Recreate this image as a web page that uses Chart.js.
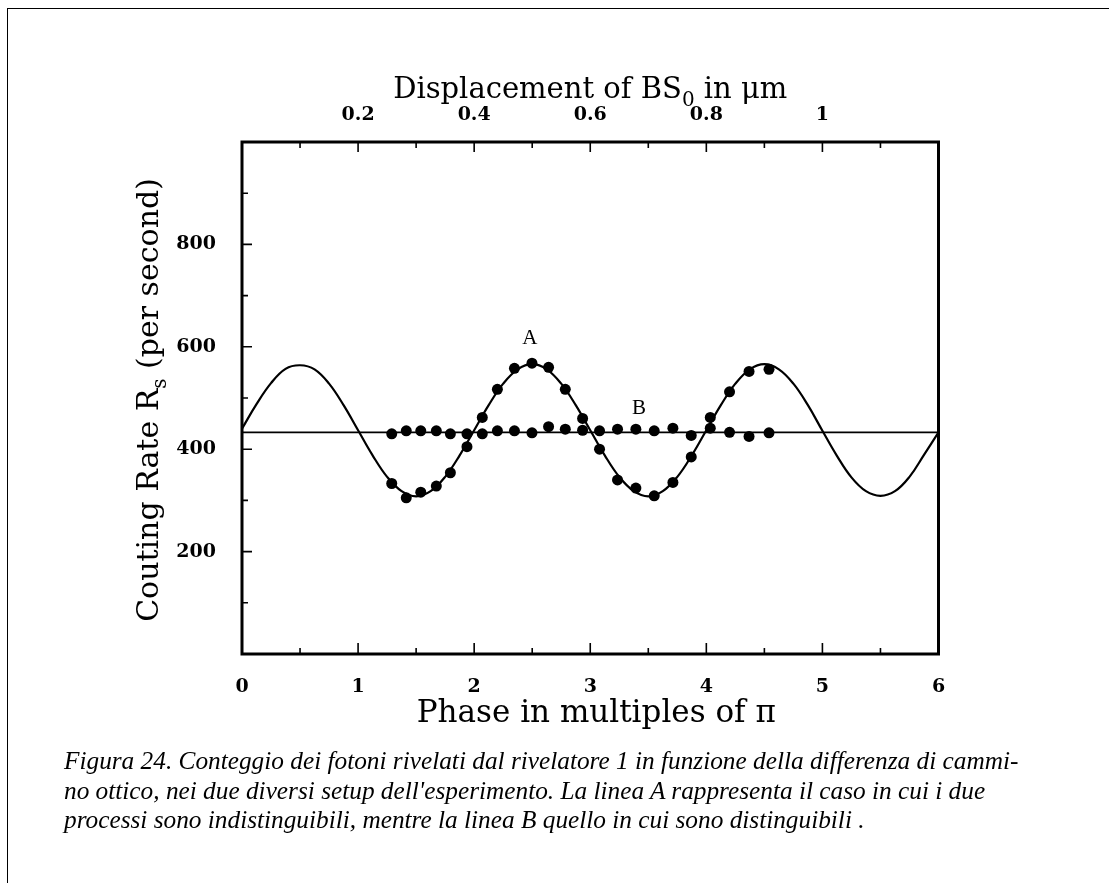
<!DOCTYPE html>
<html>
<head>
<meta charset="utf-8">
<script src="https://cdn.jsdelivr.net/npm/chart.js@4.4.1/dist/chart.umd.min.js"></script>
<style>
  html, body { margin: 0; padding: 0; background: #fff; }
  #wrap { position: relative; width: 1109px; height: 883px; overflow: hidden; }
  #frame { position: absolute; left: 7px; top: 8px; width: 1110px; height: 880px;
           border-top: 1.5px solid #000; border-left: 1.5px solid #000; }
  canvas { position: absolute; left: 0; top: 0; }
  #caption { position: absolute; left: 64px; top: 746px; color: #000;
             font: italic 25.3px "Liberation Serif", serif; line-height: 29.5px; white-space: nowrap; }
</style>
</head>
<body>
<div id="wrap">
  <div id="frame"></div>
  <canvas id="chart" width="1109" height="883"></canvas>
  <div id="caption">
    Figura 24. Conteggio dei fotoni rivelati dal rivelatore 1 in funzione della differenza di cammi-<br>
    no ottico, nei due diversi setup dell'esperimento. La linea A rappresenta il caso in cui i due<br>
    processi sono indistinguibili, mentre la linea B quello in cui sono distinguibili .
  </div>
</div>
<script>
const phaseGrid = [0, 0.125, 0.25, 0.375, 0.5, 0.625, 0.75, 0.875,
                   1, 1.125, 1.25, 1.375, 1.5, 1.625, 1.75, 1.875,
                   2, 2.125, 2.25, 2.375, 2.5, 2.625, 2.75, 2.875,
                   3, 3.125, 3.25, 3.375, 3.5, 3.625, 3.75, 3.875,
                   4, 4.125, 4.25, 4.375, 4.5, 4.625, 4.75, 4.875,
                   5, 5.125, 5.25, 5.375, 5.5, 5.625, 5.75, 5.875, 6];
const curveA = [440, 488, 529, 557, 564, 556, 528, 486,
                437, 388, 346, 318, 308, 318, 346, 388,
                437, 486, 528, 556, 566, 556, 528, 486,
                437, 388, 346, 318, 308, 318, 346, 388,
                437, 486, 528, 556, 566, 556, 528, 486,
                436, 387, 345, 318, 309, 318, 346, 389, 433];

// retta B
const lineBPhase = [0, 6];
const lineBLevel = [433, 433];

// punti misurati
const dotPhase = [1.29, 1.415, 1.54, 1.674, 1.795, 1.938, 2.07, 2.2, 2.347, 2.498, 2.641, 2.785,
                  2.934, 3.08, 3.235, 3.393, 3.551, 3.712, 3.87, 4.034, 4.2, 4.368, 4.54];
const dotsA = [333, 305, 316, 328, 354, 405, 462, 517, 558, 568, 560, 517,
               460, 400, 340, 324, 309, 335, 385, 462, 512, 552, 556];
const dotsB = [430, 436, 436, 436, 430, 430, 430, 436, 436, 432, 444, 439,
               437, 436, 439, 439, 436, 441, 427, 441, 433, 425, 432];

// etichette degli assi
const phaseLabels = [0, 1, 2, 3, 4, 5, 6];
const countLabels = [200, 400, 600, 800];
const displacementLabels = [0.2, 0.4, 0.6, 0.8, 1];
const umPerPhase = 0.2;

const curveNames = ['A', 'B'];
const curveNamePos = [[2.48, 617], [3.42, 479]];

const toPoints = (xs, ys) => xs.map((x, i) => ({ x: x, y: ys[i] }));
const has = (arr, v) => arr.some(a => Math.abs(a - v) < 1e-6);

const serif = '"DejaVu Serif", serif';

// testo con pedici: parti [testo, pedice?]
function drawRich(ctx, parts, size) {
  const big = size + 'px ' + serif, small = Math.round(size * 0.68) + 'px ' + serif;
  let w = 0;
  parts.forEach(p => { ctx.font = p[1] ? small : big; w += ctx.measureText(p[0]).width; });
  let x = -w / 2;
  ctx.textAlign = 'left';
  ctx.textBaseline = 'alphabetic';
  parts.forEach(p => {
    ctx.font = p[1] ? small : big;
    ctx.fillText(p[0], x, p[1] ? size * 0.28 : 0);
    x += ctx.measureText(p[0]).width;
  });
}

const frameAndTicks = {
  id: 'frameAndTicks',
  afterDraw(chart) {
    const { ctx, chartArea: a, scales } = chart;
    ctx.save();
    ctx.strokeStyle = '#000';
    ctx.fillStyle = '#000';
    ctx.lineWidth = 1.6;
    ctx.beginPath();
    scales.x.ticks.forEach(t => {
      if (t.value <= scales.x.min || t.value >= scales.x.max) return;
      const px = scales.x.getPixelForValue(t.value);
      const len = has(phaseLabels, t.value) ? 11 : 6;
      ctx.moveTo(px, a.bottom); ctx.lineTo(px, a.bottom - len);
    });
    scales.x2.ticks.forEach(t => {
      if (t.value <= scales.x2.min || t.value >= scales.x2.max) return;
      const px = scales.x2.getPixelForValue(t.value);
      const len = has(displacementLabels, t.value) ? 10 : 6;
      ctx.moveTo(px, a.top); ctx.lineTo(px, a.top + len);
    });
    scales.y.ticks.forEach(t => {
      if (t.value <= scales.y.min || t.value >= scales.y.max) return;
      const py = scales.y.getPixelForValue(t.value);
      const len = has(countLabels, t.value) ? 10 : 6;
      ctx.moveTo(a.left, py); ctx.lineTo(a.left + len, py);
    });
    ctx.stroke();

    ctx.lineWidth = 3;
    ctx.strokeRect(a.left, a.top, a.right - a.left, a.bottom - a.top);

    // nomi delle curve
    ctx.font = '21px "Liberation Serif", serif';
    ctx.textAlign = 'center';
    ctx.textBaseline = 'middle';
    curveNames.forEach((n, i) => {
      ctx.fillText(n, scales.x.getPixelForValue(curveNamePos[i][0]),
                      scales.y.getPixelForValue(curveNamePos[i][1]));
    });

    // titoli degli assi
    const cx = (a.left + a.right) / 2, cy = (a.top + a.bottom) / 2;
    ctx.save();
    ctx.translate(cx, a.top - 44);
    drawRich(ctx, [['Displacement of BS', false], ['0', true], [' in \u03bcm', false]], 29);
    ctx.restore();
    ctx.save();
    ctx.translate(cx + 6, a.bottom + 68);
    drawRich(ctx, [['Phase in multiples of \u03c0', false]], 31);
    ctx.restore();
    ctx.save();
    ctx.translate(a.left - 84, cy + 2);
    ctx.rotate(-Math.PI / 2);
    drawRich(ctx, [['Couting Rate R', false], ['s', true], [' (per second)', false]], 30);
    ctx.restore();
    ctx.restore();
  }
};

const tickFont = { family: serif, size: 19, weight: 'bold' };

new Chart(document.getElementById('chart'), {
  type: 'scatter',
  data: {
    datasets: [
      { data: toPoints(dotPhase, dotsA), pointRadius: 5.5, pointHoverRadius: 5.5,
        backgroundColor: '#000', borderWidth: 0, order: 0 },
      { data: toPoints(dotPhase, dotsB), pointRadius: 5.5, pointHoverRadius: 5.5,
        backgroundColor: '#000', borderWidth: 0, order: 0 },
      { data: toPoints(phaseGrid, curveA), showLine: true, pointRadius: 0,
        borderColor: '#000', borderWidth: 2.2, tension: 0.4, order: 1 },
      { data: toPoints(lineBPhase, lineBLevel), showLine: true, pointRadius: 0,
        borderColor: '#000', borderWidth: 1.8, order: 1 }
    ]
  },
  options: {
    responsive: false,
    animation: false,
    events: [],
    layout: { padding: { left: 0, top: 0, right: 170.5, bottom: 149 } },
    plugins: { legend: { display: false }, tooltip: { enabled: false } },
    scales: {
      x: {
        type: 'linear', position: 'bottom', min: 0, max: 6,
        grid: { display: false }, border: { display: false },
        ticks: { stepSize: 0.5, autoSkip: false, maxRotation: 0, padding: 14, color: '#000', font: tickFont,
                 callback: v => has(phaseLabels, v) ? String(v) : '' },
        afterFit: s => { s.height = 80; }
      },
      x2: {
        type: 'linear', position: 'top', min: 0, max: 6 * umPerPhase,
        grid: { display: false }, border: { display: false },
        ticks: { stepSize: 0.1, autoSkip: false, maxRotation: 0, padding: 8, color: '#000', font: tickFont,
                 callback: v => has(displacementLabels, v) ? String(+v.toFixed(1)) : '' },
        afterFit: s => { s.height = 142; }
      },
      y: {
        type: 'linear', position: 'left', min: 0, max: 1000,
        grid: { display: false }, border: { display: false },
        ticks: { stepSize: 100, autoSkip: false, padding: 18, color: '#000', font: tickFont,
                 callback: v => has(countLabels, v) ? String(v) : '' },
        afterFit: s => { s.width = 242; }
      }
    }
  },
  plugins: [frameAndTicks]
});
</script>
</body>
</html>
